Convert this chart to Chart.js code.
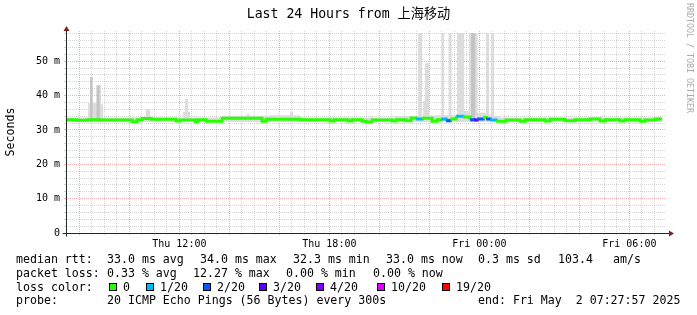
<!DOCTYPE html>
<html>
<head>
<meta charset="utf-8">
<title>Last 24 Hours from 上海移动</title>
<script src="https://cdn.jsdelivr.net/npm/chart.js@4.4.1/dist/chart.umd.min.js"></script>
<style>
body { margin: 0; background: #fff; }
#wrap { position: relative; width: 697px; height: 315px; overflow: hidden; font-family: "DejaVu Sans Mono", monospace; color: #000; }
#wrap canvas { position: absolute; left: 0; top: 0; }
#title { position: absolute; left: 0; top: 6px; width: 697px; text-align: center; font-size: 13.2px; line-height: 16px; font-family: "DejaVu Sans Mono", "Noto Sans CJK SC", monospace; white-space: pre; }
#mark { position: absolute; left: 684px; top: 3px; writing-mode: vertical-rl; font-size: 8.3px; line-height: 12px; color: #aaa; white-space: pre; }
.t { position: absolute; white-space: pre; font-size: 11.6px; line-height: 14px; }
.box { position: absolute; top: 283px; width: 6px; height: 6px; border: 1px solid #000; }
</style>
</head>
<body>
<div id="wrap">
  <canvas id="chart" width="697" height="315"></canvas>
  <div id="title">Last 24 Hours from 上海移动</div>
  <div id="mark">RRDTOOL / TOBI OETIKER</div>

  <span class="t" style="left:16px;top:252.3px">median rtt:</span>
  <span class="t" style="left:107px;top:252.3px">33.0 ms avg</span>
  <span class="t" style="left:200px;top:252.3px">34.0 ms max</span>
  <span class="t" style="left:293px;top:252.3px">32.3 ms min</span>
  <span class="t" style="left:386px;top:252.3px">33.0 ms now</span>
  <span class="t" style="left:478px;top:252.3px">0.3 ms sd</span>
  <span class="t" style="left:558px;top:252.3px">103.4</span>
  <span class="t" style="left:613px;top:252.3px">am/s</span>

  <span class="t" style="left:16px;top:266px">packet loss:</span>
  <span class="t" style="left:107px;top:266px">0.33 % avg</span>
  <span class="t" style="left:193px;top:266px">12.27 % max</span>
  <span class="t" style="left:286px;top:266px">0.00 % min</span>
  <span class="t" style="left:373px;top:266px">0.00 % now</span>

  <span class="t" style="left:16px;top:279.7px">loss color:</span>
  <div id="lossLegend"></div>

  <span class="t" style="left:16px;top:293.4px">probe:</span>
  <span class="t" style="left:107px;top:293.4px">20 ICMP Echo Pings (56 Bytes) every 300s</span>
  <span class="t" style="left:478px;top:293.4px">end: Fri May  2 07:27:57 2025</span>
</div>
<script>
// x axis in hours of day: Thu 07:27:57 .. Fri 07:27:57
var startHour = 7.466;
var endHour = 31.466;

var tickHours = [12, 18, 24, 30];
var tickLabels = ['Thu 12:00', 'Thu 18:00', 'Fri 00:00', 'Fri 06:00'];

// median rtt (ms), each value holds until the next time
var medTime = [7.47, 7.91, 8.35, 8.83, 10.11, 10.31, 10.51, 10.87, 11.87, 12.03,
  12.63, 12.75, 13.07, 13.71, 15.31, 15.47, 16.83, 18.03, 18.19, 18.75,
  18.91, 19.31, 19.47, 19.71, 20.51, 20.67, 21.07, 21.27, 21.47, 21.71,
  22.11, 22.31, 22.47, 22.67, 22.83, 23.07, 23.35, 23.63, 23.79, 23.91,
  24.15, 24.27, 24.43, 24.67, 25.07, 25.63, 25.83, 26.63, 26.83, 27.43,
  27.83, 28.43, 28.83, 29.03, 29.63, 29.83, 30.43, 30.63, 31.03, 31.31];
var medValue = [33.0, 32.8, 33.0, 32.9, 32.4, 33.0, 33.3, 33.1, 32.6, 32.9,
  32.4, 33.0, 32.5, 33.4, 32.5, 33.1, 33.0, 32.6, 33.0, 32.6,
  33.0, 32.5, 32.3, 32.9, 32.6, 33.0, 32.7, 33.5, 33.2, 33.4,
  32.5, 33.0, 33.2, 32.7, 33.2, 34.0, 33.8, 33.0, 32.9, 33.2,
  33.6, 33.2, 32.9, 32.5, 32.9, 32.5, 33.0, 32.6, 33.1, 32.7,
  33.0, 33.2, 32.6, 33.0, 32.6, 33.0, 32.5, 32.9, 33.2, 33.2];
// loss bucket per step: 0=0, 1=1/20, 2=2/20, 3=3/20 ...
var medLoss = [0, 0, 0, 0, 0, 0, 0, 0, 0, 0,
  0, 0, 0, 0, 0, 0, 0, 0, 0, 0,
  0, 0, 0, 0, 0, 0, 0, 0, 1, 0,
  0, 0, 1, 2, 0, 1, 0, 2, 3, 2,
  0, 2, 1, 0, 0, 0, 0, 0, 0, 0,
  0, 0, 0, 0, 0, 0, 0, 0, 0, 0];

// smoke (ping spread) upper envelope, light
var smokeTime = [7.47, 8.35, 8.43, 8.53, 8.69, 8.87, 8.95, 10.65, 10.83, 12.15,
  12.23, 12.35, 12.43, 13.71, 14.67, 14.83, 15.63, 16.43, 16.55, 16.83,
  20.63, 21.55, 21.71, 21.75, 21.83, 21.99, 22.49, 22.59, 22.77, 22.89,
  23.11, 23.39, 23.59, 23.93, 24.27, 24.39, 24.47, 24.59, 24.83, 31.31];
var smokeTop = [33.6, 37.8, 45.4, 37.8, 43.0, 37.5, 33.6, 36.0, 33.6, 35.3,
  39.0, 35.3, 33.6, 34.1, 34.6, 34.1, 34.3, 35.3, 34.3, 33.6,
  34.0, 58.2, 34.2, 38.4, 49.4, 34.2, 58.2, 34.3, 58.2, 34.3,
  58.2, 35.5, 58.2, 35.0, 58.2, 34.5, 58.2, 34.0, 33.6, 33.6];

// darker smoke
var darkTime = [7.47, 8.43, 8.53, 8.69, 8.81, 23.67, 23.83, 31.31];
var darkTop = [32.3, 45.4, 32.3, 43.0, 32.3, 58.2, 32.3, 32.3];

var smokeFloor = 32.3;

var lossColors = ['#26ff00', '#00b8ff', '#0059ff', '#5e00ff', '#7e00ff', '#dd00ff', '#ff0000'];
var lossNames = ['0', '1/20', '2/20', '3/20', '4/20', '10/20', '19/20'];
var lossBoxX = [109, 146, 203, 259, 316, 377, 442];

var minorGrid = 'rgba(143,143,143,0.38)';
var majorGrid = 'rgba(222,80,80,0.45)';

// loss colour legend row
var lg = document.getElementById('lossLegend');
lossNames.forEach(function(name, i) {
    var b = document.createElement('div');
    b.className = 'box';
    b.style.left = lossBoxX[i] + 'px';
    b.style.background = lossColors[i];
    lg.appendChild(b);
    var s = document.createElement('span');
    s.className = 't';
    s.style.left = (lossBoxX[i] + 14) + 'px';
    s.style.top = '279.7px';
    s.textContent = name;
    lg.appendChild(s);
});

// step data -> points: each value held until the next time
function steps(xs, ys) {
    var out = [];
    for (var i = 0; i < xs.length; i++) {
        out.push({ x: xs[i], y: ys[i] });
        if (i < xs.length - 1) out.push({ x: xs[i + 1], y: ys[i] });
    }
    return out;
}

var xGridHours = [];
for (var h = 7.5; h < endHour; h += 0.5) xGridHours.push(h);
var yGridValues = [];
for (var v = 0; v <= 58; v += 2) yGridValues.push(v);

// axis lines + arrows drawn like rrdtool
var axisArrows = {
    id: 'axisArrows',
    afterDatasetsDraw: function(chart) {
        var ctx = chart.ctx, a = chart.chartArea;
        var x0 = Math.round(a.left) + 0.5, y0 = Math.round(a.bottom) + 0.5;
        ctx.save();
        ctx.strokeStyle = '#1e2a26';
        ctx.lineWidth = 1;
        ctx.beginPath();
        ctx.moveTo(x0 - 4, y0);
        ctx.lineTo(a.right + 3, y0);
        ctx.moveTo(x0, y0 + 3);
        ctx.lineTo(x0, a.top - 1);
        ctx.stroke();
        ctx.fillStyle = '#7F1F1F';
        ctx.beginPath();
        ctx.moveTo(x0, a.top - 5);
        ctx.lineTo(x0 - 3, a.top);
        ctx.lineTo(x0 + 3, a.top);
        ctx.closePath();
        ctx.fill();
        ctx.beginPath();
        ctx.moveTo(a.right + 8, y0);
        ctx.lineTo(a.right + 3, y0 - 3);
        ctx.lineTo(a.right + 3, y0 + 3);
        ctx.closePath();
        ctx.fill();
        ctx.restore();
    }
};

new Chart(document.getElementById('chart'), {
    type: 'line',
    data: {
        datasets: [{
            label: 'median rtt',
            data: steps(medTime, medValue),
            borderColor: lossColors[0],
            borderWidth: 3,
            borderCapStyle: 'butt',
            pointRadius: 0,
            fill: false,
            segment: {
                borderColor: function(c) { return lossColors[medLoss[Math.floor(c.p0DataIndex / 2)]]; }
            }
        }, {
            label: 'smoke dark',
            data: steps(darkTime, darkTop),
            borderWidth: 0,
            borderColor: 'rgba(0,0,0,0)',
            backgroundColor: '#c4c4c4',
            pointRadius: 0,
            fill: { value: smokeFloor }
        }, {
            label: 'smoke',
            data: steps(smokeTime, smokeTop),
            borderWidth: 0,
            borderColor: 'rgba(0,0,0,0)',
            backgroundColor: '#dcdcdc',
            pointRadius: 0,
            fill: { value: smokeFloor }
        }]
    },
    options: {
        responsive: false,
        animation: false,
        events: [],
        layout: { padding: { top: 31, right: 31, left: 0, bottom: 0 } },
        plugins: {
            legend: { display: false },
            tooltip: { enabled: false }
        },
        scales: {
            x: {
                type: 'linear',
                min: startHour,
                max: endHour,
                afterFit: function(s) { s.height = 82; },
                afterBuildTicks: function(s) {
                    s.ticks = xGridHours.map(function(v) { return { value: v }; });
                },
                grid: {
                    color: function(c) { return (c.tick && c.tick.value % 2 === 0) ? majorGrid : minorGrid; },
                    tickLength: 2
                },
                border: { display: false, dash: [1, 1] },
                ticks: {
                    autoSkip: false,
                    maxRotation: 0,
                    minRotation: 0,
                    padding: 3,
                    color: '#000',
                    font: { family: 'DejaVu Sans Mono', size: 10 },
                    callback: function(v) {
                        var i = tickHours.indexOf(v);
                        return i >= 0 ? tickLabels[i] : '';
                    }
                }
            },
            y: {
                min: 0,
                max: 58.8,
                afterFit: function(s) { s.width = 66; },
                afterBuildTicks: function(s) {
                    s.ticks = yGridValues.map(function(v) { return { value: v }; });
                },
                title: {
                    display: true,
                    text: 'Seconds',
                    color: '#000',
                    font: { family: 'DejaVu Sans Mono', size: 11.6 },
                    padding: { top: 4, bottom: 0 }
                },
                grid: {
                    color: function(c) { return (c.tick && c.tick.value % 10 === 0) ? majorGrid : minorGrid; },
                    tickLength: 2
                },
                border: { display: false, dash: [1, 1] },
                ticks: {
                    autoSkip: false,
                    padding: 4,
                    color: '#000',
                    font: { family: 'DejaVu Sans Mono', size: 10 },
                    callback: function(v) {
                        if (v === 0) return '0';
                        return v % 10 === 0 ? v + ' m' : '';
                    }
                }
            }
        }
    },
    plugins: [axisArrows]
});
</script>
</body>
</html>
